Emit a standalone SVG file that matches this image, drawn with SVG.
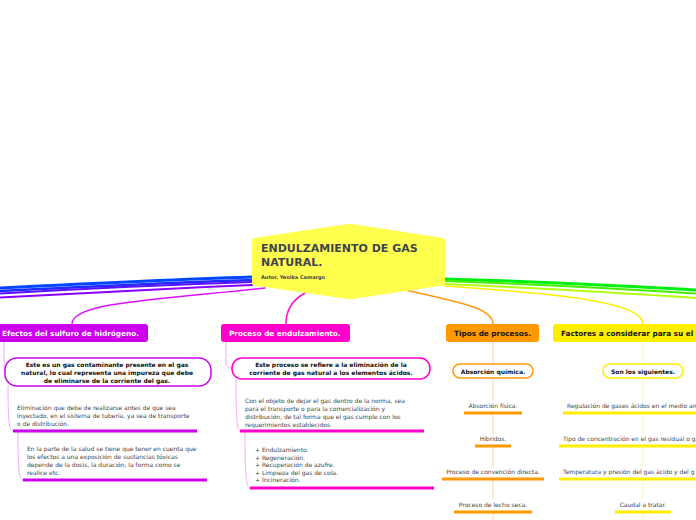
<svg xmlns="http://www.w3.org/2000/svg" width="696" height="520" viewBox="0 0 696 520">
<style>
text{font-family:"DejaVu Sans","Liberation Sans",Arial,sans-serif}
.t{font-size:6px;fill:#444}
.c{text-anchor:middle}
.b{font-weight:bold;font-size:6px;fill:#111}
.h{font-weight:bold;font-size:7.3px}
.pl{fill:none;stroke-linecap:round}
</style>
<rect width="696" height="520" fill="#fff"/>
<g id="connectors" class="pl">
<path d="M252,277 C160,280 60,285 0,288" stroke="#0048ff" stroke-width="3"/>
<path d="M252,280 C160,283 60,288 0,291" stroke="#1f2bff" stroke-width="2.5"/>
<path d="M252,282 C160,285 60,290 0,293.5" stroke="#5a10ff" stroke-width="2"/>
<path d="M252,285 C160,289 60,294 0,297.5" stroke="#8a00ff" stroke-width="2"/>
<path d="M265,288 C150,300 72,303 72,324" stroke="#dd11ff" stroke-width="1.5"/>
<path d="M305,293 C292,300 286,310 286,324" stroke="#ff11cc" stroke-width="1.5"/>
<path d="M405,290 C470,304 493,310 493,324" stroke="#ff9911" stroke-width="1.5"/>
<path d="M445,286 C560,294 643,302 643,324" stroke="#ffee00" stroke-width="1.5"/>
<path d="M445,279 C560,282 640,287 696,290" stroke="#00ee11" stroke-width="3"/>
<path d="M445,281 C560,285 640,290 696,293.5" stroke="#44ee00" stroke-width="2"/>
<path d="M445,284 C560,289 640,294 696,298" stroke="#b0ff10" stroke-width="2"/>
<g stroke="#eeaaff" stroke-width="1">
<path d="M4,342 L4,368 Q4,372 6,372"/>
<path d="M8,386 C8,420 9,431 13,431"/>
<path d="M18,432 C18,470 19,480 23,480"/>
</g>
<g stroke="#ffa8ee" stroke-width="1">
<path d="M226,342 L226,363 Q226,368 232,368"/>
<path d="M236,379 C236,420 237,431 240,431"/>
<path d="M245,432 C245,475 246,488 250,488"/>
</g>
<g stroke="#ffd9a0" stroke-width="1">
<path d="M493,342 V364 M493,378 V400 M493,414 V433 M493,447 V466 M493,480 V499 M493,513 V520"/>
</g>
<g stroke="#fff4a0" stroke-width="1">
<path d="M643,342 V364 M643,378 V400 M643,414 V433 M643,447 V466 M643,480 V499 M643,513 V520"/>
</g>
</g>
<g id="root">
<path d="M254,238 L348,224 Q350,223.7 352,224 L443,238 Q445,238.5 445,241 L445,283 Q445,285 443,285.5 L352,299 Q350,299.3 348,299 L254,285.5 Q252,285 252,283 L252,241 Q252,238.5 254,238 Z" fill="#ffff4d"/>
<text x="261" y="252" font-size="11" font-weight="bold" fill="#434350">ENDULZAMIENTO DE GAS</text>
<text x="261" y="266" font-size="11" font-weight="bold" fill="#434350">NATURAL.</text>
<text x="261" y="279" font-size="5" font-weight="bold" fill="#434350">Autor. Yenika Camargo</text>
</g>
<g id="efectos">
<rect x="-5" y="324" width="153" height="18" rx="3" fill="#cc00ee"/>
<text x="2" y="336" class="h" fill="#fff">Efectos del sulfuro de hidrógeno.</text>
</g>
<g id="efectos-1">
<rect x="5" y="358" width="206" height="28" rx="12" fill="#fff" stroke="#cc00ee" stroke-width="1.5"/>
<text x="107" y="367" class="b c">Este es un gas contaminante presente en el gas</text>
<text x="107" y="375" class="b c">natural, lo cual representa una impureza que debe</text>
<text x="107" y="383" class="b c">de eliminarse de la corriente del gas.</text>
</g>
<g id="efectos-2">
<text x="17" y="410" class="t">Eliminación que debe de realizarse antes de que sea</text>
<text x="17" y="418" class="t">inyectado, en el sistema de tubería, ya sea de transporte</text>
<text x="17" y="426" class="t">o de distribución.</text>
<line x1="13" y1="431" x2="197" y2="431" stroke="#cc00ee" stroke-width="3"/>
</g>
<g id="efectos-3">
<text x="27" y="451" class="t">En la parte de la salud se tiene que tener en cuenta que</text>
<text x="27" y="459" class="t">los efectos a una exposición de sustancias tóxicas</text>
<text x="27" y="467" class="t">depende de la dosis, la duración, la forma como se</text>
<text x="27" y="475" class="t">realice etc.</text>
<line x1="23" y1="480" x2="207" y2="480" stroke="#cc00ee" stroke-width="3"/>
</g>
<g id="proceso">
<rect x="221" y="324" width="129" height="18" rx="3" fill="#ff00cc"/>
<text x="229" y="336" class="h" fill="#fff">Proceso de endulzamiento.</text>
</g>
<g id="proceso-1">
<rect x="232" y="358" width="198" height="21" rx="10" fill="#fff" stroke="#ff00cc" stroke-width="1.5"/>
<text x="331" y="367" class="b c">Este proceso se refiere a la eliminación de la</text>
<text x="331" y="375" class="b c">corriente de gas natural a los elementos ácidos.</text>
</g>
<g id="proceso-2">
<text x="245" y="403" class="t">Con el objeto de dejar el gas dentro de la norma, sea</text>
<text x="245" y="411" class="t">para el transporte o para la comercialización y</text>
<text x="245" y="419" class="t">distribución, de tal forma que el gas cumple con los</text>
<text x="245" y="427" class="t">requerimientos establecidos.</text>
<line x1="240" y1="431" x2="424" y2="431" stroke="#ff00cc" stroke-width="3"/>
</g>
<g id="proceso-3">
<text x="255" y="452" class="t">+ Endulzamiento.</text>
<text x="255" y="459.5" class="t">+ Regeneración.</text>
<text x="255" y="467" class="t">+ Recuperación de azufre.</text>
<text x="255" y="474.5" class="t">+ Limpieza del gas de cola.</text>
<text x="255" y="482" class="t">+ Incineración.</text>
<line x1="250" y1="488" x2="434" y2="488" stroke="#ff00cc" stroke-width="3"/>
</g>
<g id="tipos">
<rect x="446" y="324" width="93" height="18" rx="3" fill="#ff9900"/>
<text x="492.5" y="336" class="h c" fill="#111">Tipos de procesos.</text>
</g>
<g id="tipos-1">
<rect x="453" y="364" width="80" height="14" rx="7" fill="#fff" stroke="#ff9900" stroke-width="1.5"/>
<text x="493" y="373.5" class="b c">Absorción química.</text>
</g>
<g id="tipos-2">
<text x="493" y="408" class="t c">Absorción física.</text>
<line x1="464" y1="413" x2="522" y2="413" stroke="#ff9900" stroke-width="3"/>
</g>
<g id="tipos-3">
<text x="493" y="441" class="t c">Híbridos.</text>
<line x1="475" y1="446" x2="511" y2="446" stroke="#ff9900" stroke-width="3"/>
</g>
<g id="tipos-4">
<text x="493" y="474" class="t c">Proceso de convención directa.</text>
<line x1="442" y1="479" x2="544" y2="479" stroke="#ff9900" stroke-width="3"/>
</g>
<g id="tipos-5">
<text x="493" y="507" class="t c">Proceso de lecho seca.</text>
<line x1="454" y1="512" x2="532" y2="512" stroke="#ff9900" stroke-width="3"/>
</g>
<g id="factores">
<rect x="553" y="324" width="160" height="18" rx="3" fill="#ffee00"/>
<text x="561" y="336" class="h" fill="#111">Factores a considerar para su el</text>
</g>
<g id="factores-1">
<rect x="603" y="364" width="80" height="14" rx="7" fill="#fff" stroke="#ffee00" stroke-width="1.5"/>
<text x="643" y="373.5" class="b c">Son los siguientes.</text>
</g>
<g id="factores-2">
<text x="567" y="408" class="t">Regulación de gases ácidos en el medio am</text>
<line x1="563" y1="413" x2="700" y2="413" stroke="#ffee00" stroke-width="3"/>
</g>
<g id="factores-3">
<text x="563" y="441" class="t">Tipo de concentración en el gas residual o g</text>
<line x1="559" y1="446" x2="700" y2="446" stroke="#ffee00" stroke-width="3"/>
</g>
<g id="factores-4">
<text x="563" y="474" class="t">Temperatura y presión del gas ácido y del g</text>
<line x1="559" y1="479" x2="700" y2="479" stroke="#ffee00" stroke-width="3"/>
</g>
<g id="factores-5">
<text x="643" y="507" class="t c">Caudal a tratar.</text>
<line x1="615" y1="512" x2="671" y2="512" stroke="#ffee00" stroke-width="3"/>
</g>
</svg>
